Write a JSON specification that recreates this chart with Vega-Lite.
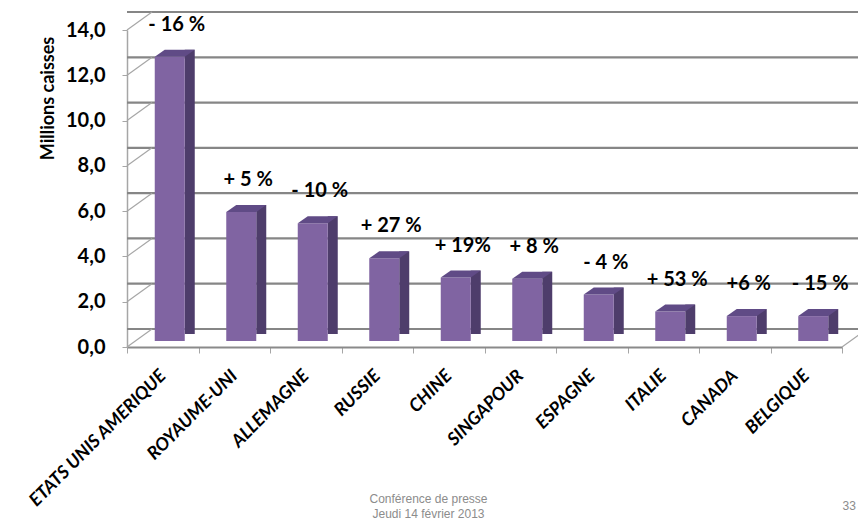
{
  "$schema": "https://vega.github.io/schema/vega-lite/v6.json",
  "width": 715,
  "height": 317,
  "autosize": {"type": "none"},
  "padding": {"left": 127, "top": 30, "right": 16, "bottom": 175},
  "background": "white",
  "config": {"view": {"stroke": null}, "font": "Lato"},
  "datasets": {
    "ventes": [
      {"pays": "ETATS UNIS AMERIQUE", "val": 12.55, "var": "- 16 %"},
      {"pays": "ROYAUME-UNI", "val": 5.7, "var": "+ 5 %"},
      {"pays": "ALLEMAGNE", "val": 5.2, "var": "- 10 %"},
      {"pays": "RUSSIE", "val": 3.65, "var": "+ 27 %"},
      {"pays": "CHINE", "val": 2.8, "var": "+ 19%"},
      {"pays": "SINGAPOUR", "val": 2.75, "var": "+ 8 %"},
      {"pays": "ESPAGNE", "val": 2.05, "var": "- 4 %"},
      {"pays": "ITALIE", "val": 1.3, "var": "+ 53 %"},
      {"pays": "CANADA", "val": 1.1, "var": "+6 %"},
      {"pays": "BELGIQUE", "val": 1.1, "var": "- 15 %"}
    ],
    "grille": [{"v": 0}, {"v": 2}, {"v": 4}, {"v": 6}, {"v": 8}, {"v": 10}, {"v": 12}, {"v": 14}],
    "page": [{"num": "33"}]
  },
  "layer": [
    {
      "data": {"name": "grille"},
      "mark": {"type": "rule", "color": "#868686", "strokeWidth": 2.2, "xOffset": 25, "yOffset": -18},
      "encoding": {
        "y": {
          "field": "v", "type": "quantitative",
          "scale": {"domain": [0, 14]},
          "axis": {
            "values": [0, 2, 4, 6, 8, 10, 12, 14],
            "labelExpr": "replace(format(datum.value, '.1f'), '.', ',')",
            "grid": false,
            "domainColor": "#a6a6a6", "domainWidth": 1.5,
            "tickColor": "#a6a6a6", "tickSize": 5,
            "labelFont": "Lato", "labelFontWeight": "bold", "labelFontSize": 20, "labelColor": "black",
            "labelPadding": 17,
            "title": "Millions caisses",
            "titleFont": "Lato", "titleFontSize": 18, "titleFontWeight": "bold", "titleColor": "black",
            "titleX": -79, "titleY": 68, "titleAngle": -90, "titleAlign": "center", "titleBaseline": "middle"
          }
        }
      }
    },
    {
      "data": {"name": "grille"},
      "mark": {"type": "point", "shape": "M 0 0 L 25 -18", "size": 4, "filled": false, "color": "#a6a6a6", "strokeWidth": 1.2, "opacity": 1},
      "encoding": {
        "x": {"datum": "ETATS UNIS AMERIQUE", "bandPosition": 0, "type": "nominal"},
        "y": {"field": "v", "type": "quantitative"}
      }
    },
    {
      "data": {"name": "page"},
      "mark": {"type": "point", "shape": "M 0 0 L 25 -18", "size": 4, "filled": false, "color": "#a6a6a6", "strokeWidth": 1.2, "opacity": 1},
      "encoding": {
        "x": {"datum": "BELGIQUE", "bandPosition": 1, "type": "nominal"},
        "y": {"datum": 0, "type": "quantitative"}
      }
    },
    {
      "data": {"name": "ventes"},
      "mark": {"type": "bar", "width": 10, "xOffset": 27, "yOffset": -13, "color": "#4e3d6b"},
      "encoding": {
        "x": {
          "field": "pays", "type": "nominal",
          "scale": {"domain": ["ETATS UNIS AMERIQUE", "ROYAUME-UNI", "ALLEMAGNE", "RUSSIE", "CHINE", "SINGAPOUR", "ESPAGNE", "ITALIE", "CANADA", "BELGIQUE"], "paddingInner": 0, "paddingOuter": 0},
          "axis": {
            "title": ["Conférence de presse", "Jeudi 14 février 2013"],
            "titleFont": "Liberation Sans", "titleFontSize": 12, "titleFontWeight": "normal", "titleColor": "#8c8c8c",
            "titleX": 301, "titleY": 146, "titleBaseline": "top", "titleAlign": "center", "titleLineHeight": 15,
            "labelAngle": -45, "labelAlign": "right", "labelBaseline": "middle",
            "labelFont": "Lato", "labelFontStyle": "italic", "labelFontWeight": "bold", "labelFontSize": 18, "labelColor": "black",
            "labelPadding": 20, "labelLimit": 400, "labelOverlap": false,
            "tickBand": "extent", "tickSize": 6, "tickColor": "#a6a6a6",
            "domainColor": "#8a8a8a", "domainWidth": 2
          }
        },
        "y": {"field": "val", "type": "quantitative"}
      }
    },
    {
      "data": {"name": "ventes"},
      "mark": {"type": "bar", "width": 30, "xOffset": 7, "yOffset": -6, "color": "#8064a2"},
      "encoding": {
        "x": {"field": "pays", "type": "nominal"},
        "y": {"field": "val", "type": "quantitative"}
      }
    },
    {
      "data": {"name": "ventes"},
      "mark": {"type": "point", "shape": "M -15 0 L 15 0 L 25 -7 L -5 -7 Z", "size": 4, "filled": true, "color": "#604b86", "strokeWidth": 0, "opacity": 1, "xOffset": 7, "yOffset": -6},
      "encoding": {
        "x": {"field": "pays", "type": "nominal"},
        "y": {"field": "val", "type": "quantitative"}
      }
    },
    {
      "data": {"name": "ventes"},
      "mark": {"type": "text", "font": "Lato", "fontSize": 20, "fontWeight": "bold", "color": "black", "dx": 14, "dy": -38, "baseline": "middle", "align": "center"},
      "encoding": {
        "x": {"field": "pays", "type": "nominal"},
        "y": {"field": "val", "type": "quantitative"},
        "text": {"field": "var"}
      }
    },
    {
      "data": {"name": "page"},
      "mark": {"type": "text", "font": "Liberation Sans", "fontSize": 12, "color": "#8c8c8c", "dx": 43, "baseline": "middle", "align": "center"},
      "encoding": {
        "x": {"datum": "BELGIQUE", "type": "nominal"},
        "y": {"datum": -7, "type": "quantitative"},
        "text": {"field": "num"}
      }
    }
  ]
}
